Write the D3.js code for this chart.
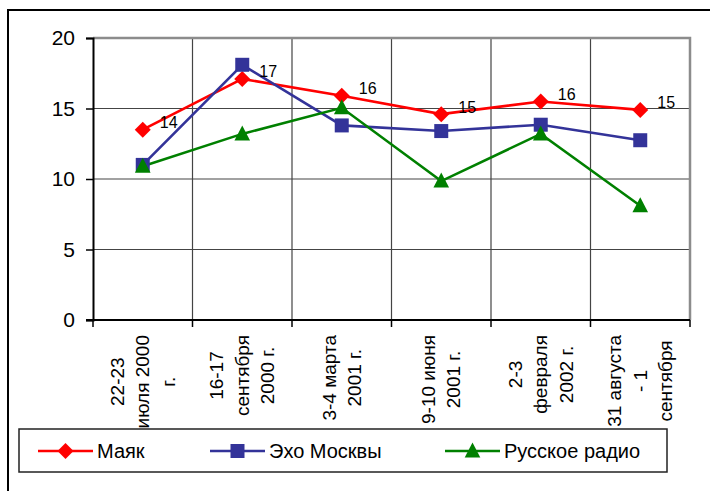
<!DOCTYPE html>
<html><head><meta charset="utf-8">
<script src="https://cdn.jsdelivr.net/npm/d3@7"></script>
<style>body{margin:0;background:#fff}svg{display:block}text{font-family:Arial,"Liberation Sans",sans-serif}</style>
</head><body>
<svg id="c" width="710" height="491"></svg>
<script>
const categories = [
  ["22-23", "июля 2000", "г."],
  ["16-17", "сентября", "2000 г."],
  ["3-4 марта", "2001 г."],
  ["9-10 июня", "2001 г."],
  ["2-3", "февраля", "2002 г."],
  ["31 августа", "- 1", "сентября"]
];
const mayak = [13.5, 17.1, 15.9, 14.6, 15.5, 14.9];
const mayakLabels = ["14", "17", "16", "15", "16", "15"];
const echo = [11.0, 18.1, 13.8, 13.4, 13.85, 12.75];
const russkoe = [10.9, 13.2, 15.05, 9.85, 13.2, 8.1];
const yTicks = [0, 5, 10, 15, 20];
const seriesNames = ["Маяк", "Эхо Москвы", "Русское радио"];

const svg = d3.select("#c");
const L = 93, R = 690, T = 38, B = 320;
const x = d3.scaleBand().domain(d3.range(categories.length)).range([L, R]);
const y = d3.scaleLinear().domain([0, 20]).range([B, T]);
const cx = i => x(i) + x.bandwidth() / 2;

// outer frame
svg.append("rect").attr("x", 8).attr("y", 10).attr("width", 720).attr("height", 500)
  .attr("fill", "none").attr("stroke", "#000").attr("stroke-width", 2);

// gridlines
svg.append("g").selectAll("line").data(yTicks.filter(d => d > 0 && d < 20)).join("line")
  .attr("x1", L).attr("x2", R).attr("y1", d => y(d)).attr("y2", d => y(d))
  .attr("stroke", "#444").attr("stroke-width", 1.2);
svg.append("g").selectAll("line").data(d3.range(1, categories.length)).join("line")
  .attr("x1", d => x(d)).attr("x2", d => x(d)).attr("y1", T).attr("y2", B)
  .attr("stroke", "#444").attr("stroke-width", 1.2);

// plot border (top/right gray)
svg.append("path").attr("d", `M${L},${T}H${R}V${B}`).attr("fill", "none")
  .attr("stroke", "#8c8c8c").attr("stroke-width", 2.5);

// y axis
const yAxis = svg.append("g").attr("transform", `translate(${L},0)`)
  .call(d3.axisLeft(y).tickValues(yTicks).tickSize(7).tickPadding(11));
yAxis.select(".domain").attr("stroke", "#000").attr("stroke-width", 2);
yAxis.selectAll(".tick line").attr("stroke", "#000").attr("stroke-width", 1.5);
yAxis.selectAll(".tick text").attr("font-size", 21).attr("fill", "#000")
  .attr("font-family", "Arial, 'Liberation Sans', sans-serif");

// x axis
svg.append("line").attr("x1", L - 7).attr("x2", R).attr("y1", B).attr("y2", B)
  .attr("stroke", "#000").attr("stroke-width", 2);
svg.append("g").selectAll("line").data(d3.range(0, categories.length + 1)).join("line")
  .attr("x1", d => d < categories.length ? x(d) : R).attr("x2", d => d < categories.length ? x(d) : R)
  .attr("y1", B).attr("y2", B + 7).attr("stroke", "#000").attr("stroke-width", 1.5);

// category labels rotated
const labTop = 335, lineH = 25.3;
categories.forEach((lines, i) => {
  const g = svg.append("g");
  const n = lines.length;
  const texts = lines.map((ln, j) => g.append("text").text(ln)
    .attr("font-size", 19).attr("fill", "#000").attr("text-anchor", "middle")
    .attr("dominant-baseline", "central"));
  const maxLen = d3.max(texts, t => t.node().getComputedTextLength());
  const cy = labTop + maxLen / 2;
  texts.forEach((t, j) => {
    const px = cx(i) + (j - (n - 1) / 2) * lineH;
    t.attr("transform", `translate(${px},${cy}) rotate(-90)`);
  });
});

// marker shapes
const diamond = "M0,-8L8,0L0,8L-8,0Z";
const square = "M-7,-7H7V7H-7Z";
const triangle = "M0,-8.5L7.8,6.5H-7.8Z";
const shapes = [diamond, square, triangle];

// series
const colors = ["#ff0000", "#333399", "#008000"];
const data = [mayak, echo, russkoe];
const line = d3.line().x((d, i) => cx(i)).y(d => y(d));
data.forEach((vals, s) => {
  svg.append("path").datum(vals).attr("d", line).attr("fill", "none")
    .attr("stroke", colors[s]).attr("stroke-width", 2.6);
});
data.forEach((vals, s) => {
  svg.append("g").selectAll("path").data(vals).join("path")
    .attr("d", shapes[s])
    .attr("transform", (d, i) => `translate(${cx(i)},${y(d)})`)
    .attr("fill", colors[s]);
});

// data labels for Маяк
svg.append("g").selectAll("text").data(mayak).join("text")
  .attr("x", (d, i) => cx(i) + 17).attr("y", d => y(d) - 7)
  .attr("dominant-baseline", "central").attr("font-size", 16).attr("fill", "#000")
  .text((d, i) => mayakLabels[i]);

// legend
svg.append("rect").attr("x", 19).attr("y", 429).attr("width", 648).attr("height", 43)
  .attr("fill", "#fff").attr("stroke", "#222").attr("stroke-width", 1.5);
const legX = [38, 210, 445];
const ly = 451;
seriesNames.forEach((nm, s) => {
  const g = svg.append("g");
  g.append("line").attr("x1", legX[s]).attr("x2", legX[s] + 55).attr("y1", ly).attr("y2", ly)
    .attr("stroke", colors[s]).attr("stroke-width", 2.6);
  g.append("path").attr("d", shapes[s])
    .attr("transform", `translate(${legX[s] + 27.5},${ly})`).attr("fill", colors[s]);
  g.append("text").attr("x", legX[s] + 59).attr("y", ly).attr("dominant-baseline", "central")
    .attr("font-size", 20).attr("fill", "#000").text(nm);
});
</script>
</body></html>
